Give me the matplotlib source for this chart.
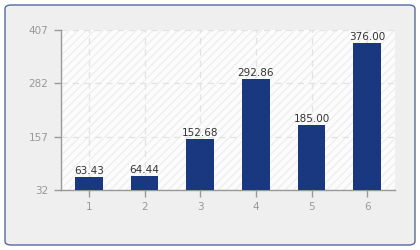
import matplotlib
matplotlib.use("Agg")
import matplotlib.pyplot as plt
from matplotlib.patches import FancyBboxPatch, Rectangle

categorie = ["1", "2", "3", "4", "5", "6"]
valori = [63.43, 64.44, 152.68, 292.86, 185.00, 376.00]
tick_y = [32, 157, 282, 407]

BLU = "#1a387f"
GRIGIO = "#999999"

fig = plt.figure(figsize=(4.2, 2.5), dpi=100)
fig.patch.set_facecolor("white")

# cornice arrotondata esterna
cornice = FancyBboxPatch((5 / 420, 5 / 250), 410 / 420, 240 / 250,
                         boxstyle="round,pad=0,rounding_size=0.015",
                         transform=fig.transFigure, facecolor="#efefef",
                         edgecolor="#5468a4", linewidth=1.0, zorder=-10)
fig.patches.append(cornice)

ax = fig.add_axes([61 / 420, 60 / 250, 334 / 420, 160 / 250])
ax.set_zorder(1)
ax.set_facecolor("#fcfcfc")
ax.add_patch(Rectangle((0, 0), 1, 1, transform=ax.transAxes, facecolor="none",
                       edgecolor="#efefef", hatch="////", linewidth=0, zorder=0))

x = list(range(1, len(categorie) + 1))
barre = ax.bar(x, [v - tick_y[0] for v in valori], bottom=tick_y[0], width=0.5,
               color=BLU, zorder=3)
for xi, v in zip(x, valori):
    ax.text(xi, v + 2, f"{v:.2f}", ha="center", va="bottom", fontsize=7.5,
            color="#333333", zorder=4)

ax.set_xlim(0.5, 6.5)
ax.set_ylim(tick_y[0], tick_y[-1])
ax.set_xticks(x)
ax.set_xticklabels(categorie)
ax.set_yticks(tick_y)
ax.grid(True, color="#e2e2e2", linestyle=(0, (5, 4)), linewidth=0.9, zorder=1)
ax.set_axisbelow(True)

for lato in ["top", "right"]:
    ax.spines[lato].set_visible(False)
for lato in ["left", "bottom"]:
    ax.spines[lato].set_color(GRIGIO)
    ax.spines[lato].set_linewidth(1.0)
ax.tick_params(colors=GRIGIO, labelsize=7.5, length=5, width=1.0, pad=4)

fig.savefig("out.png", dpi=100)
